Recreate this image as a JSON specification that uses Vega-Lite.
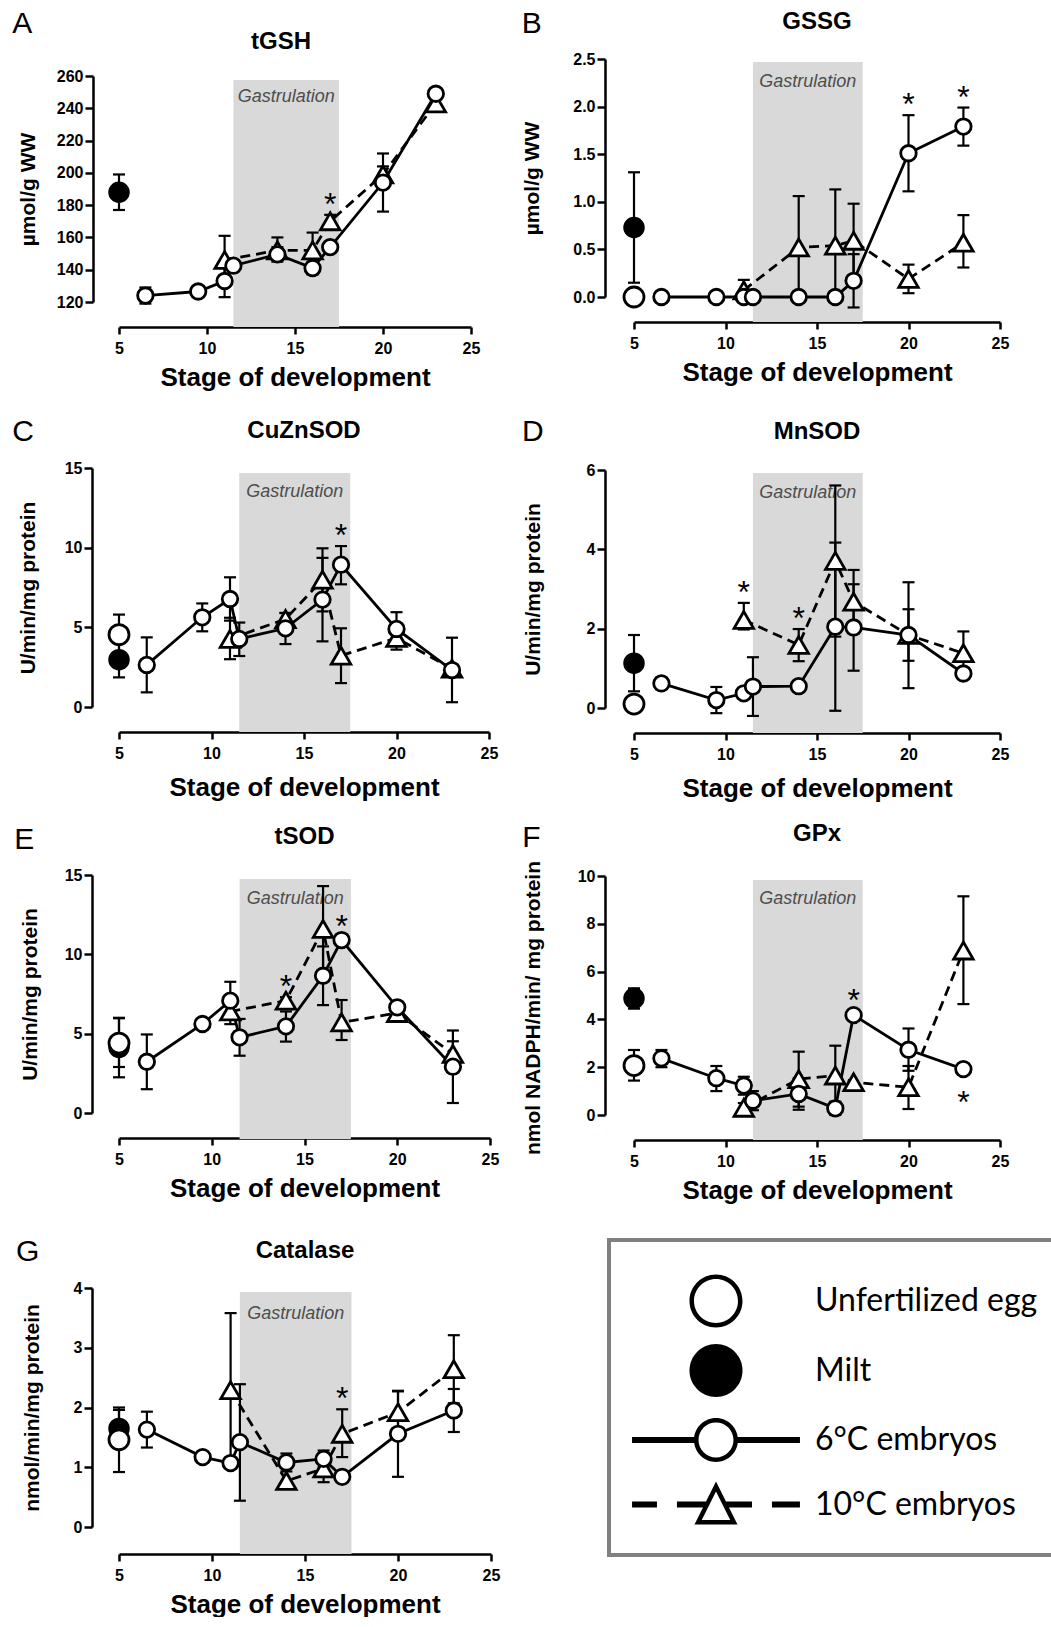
{
"$schema": "https://vega.github.io/schema/vega-lite/v6.json",
"padding": {"left": 12, "top": 8, "right": 0, "bottom": 0},
"background": "white",
"config": {
 "view": {"stroke": null},
 "font": "Liberation Sans",
 "axis": {"grid": false, "domainColor": "black", "domainWidth": 2.5, "tickColor": "black", "tickWidth": 2.5, "labelColor": "black", "labelFont": "Liberation Sans", "labelFontSize": 16, "labelFontWeight": "bold", "titleColor": "black", "titleFont": "Liberation Sans", "titleFontWeight": "bold"},
 "axisX": {"offset": 25, "tickSize": 7, "labelPadding": 6, "titleFontSize": 26, "titlePadding": 8, "labelFlush": false},
 "axisY": {"tickSize": 8, "labelPadding": 2, "titleFontSize": 21},
 "title": {"font": "Liberation Sans", "fontSize": 24, "fontWeight": "bold", "color": "black"},
 "text": {"font": "Liberation Sans"},
 "legend": {"strokeColor": "#808080", "strokeWidth": 4}
},
"datasets": {
 "pts": [
  {"p":"band","s0":11.5,"s1":17.5,"mid":14.5,"label":"Gastrulation"},
  {"p":"A","g":"milt","s":5,"m":188,"lo":177,"hi":199},
  {"p":"A","g":"6C","s":6.5,"m":124,"lo":119,"hi":129},
  {"p":"A","g":"6C","s":9.5,"m":126.5,"lo":124.5,"hi":128.5},
  {"p":"A","g":"6C","s":11,"m":133,"lo":123,"hi":143},
  {"p":"A","g":"6C","s":11.5,"m":142.5,"lo":139.5,"hi":145.5},
  {"p":"A","g":"6C","s":14,"m":149.5,"lo":145,"hi":154},
  {"p":"A","g":"6C","s":16,"m":141,"lo":137,"hi":145},
  {"p":"A","g":"6C","s":17,"m":154,"lo":151,"hi":157},
  {"p":"A","g":"6C","s":20,"m":194,"lo":176,"hi":212},
  {"p":"A","g":"6C","s":23,"m":249,"lo":246,"hi":252},
  {"p":"A","g":"10C","s":11,"m":146,"lo":131,"hi":161},
  {"p":"A","g":"10C","s":14,"m":152,"lo":146,"hi":160},
  {"p":"A","g":"10C","s":16,"m":152,"lo":143,"hi":163},
  {"p":"A","g":"10C","s":17,"m":170,"lo":166,"hi":174,"sig":"up"},
  {"p":"A","g":"10C","s":20,"m":199,"lo":194,"hi":204},
  {"p":"A","g":"10C","s":23,"m":243,"lo":240,"hi":246},

  {"p":"B","g":"milt","s":5,"m":0.73,"lo":0.15,"hi":1.31},
  {"p":"B","g":"egg","s":5,"m":0},
  {"p":"B","g":"6C","s":6.5,"m":0},
  {"p":"B","g":"6C","s":9.5,"m":0},
  {"p":"B","g":"6C","s":11,"m":0},
  {"p":"B","g":"6C","s":11.5,"m":0},
  {"p":"B","g":"6C","s":14,"m":0},
  {"p":"B","g":"6C","s":16,"m":0},
  {"p":"B","g":"6C","s":17,"m":0.17,"lo":-0.11,"hi":0.45},
  {"p":"B","g":"6C","s":20,"m":1.51,"lo":1.11,"hi":1.91,"sig":"up"},
  {"p":"B","g":"6C","s":23,"m":1.79,"lo":1.59,"hi":1.99,"sig":"up"},
  {"p":"B","g":"10C","s":11,"m":0.07,"lo":-0.04,"hi":0.18},
  {"p":"B","g":"10C","s":14,"m":0.52,"lo":0,"hi":1.06},
  {"p":"B","g":"10C","s":16,"m":0.54,"lo":0,"hi":1.13},
  {"p":"B","g":"10C","s":17,"m":0.59,"lo":0.2,"hi":0.98},
  {"p":"B","g":"10C","s":20,"m":0.19,"lo":0.04,"hi":0.34},
  {"p":"B","g":"10C","s":23,"m":0.57,"lo":0.31,"hi":0.86},

  {"p":"C","g":"milt","s":5,"m":2.97,"lo":1.86,"hi":4.1},
  {"p":"C","g":"egg","s":5,"m":4.54,"lo":3.3,"hi":5.8},
  {"p":"C","g":"6C","s":6.5,"m":2.64,"lo":0.92,"hi":4.37},
  {"p":"C","g":"6C","s":9.5,"m":5.63,"lo":4.75,"hi":6.5},
  {"p":"C","g":"6C","s":11,"m":6.78,"lo":5.42,"hi":8.14},
  {"p":"C","g":"6C","s":11.5,"m":4.27,"lo":3.2,"hi":5.3},
  {"p":"C","g":"6C","s":14,"m":4.94,"lo":3.95,"hi":5.9},
  {"p":"C","g":"6C","s":16,"m":6.74,"lo":4.12,"hi":9.36},
  {"p":"C","g":"6C","s":17,"m":8.93,"lo":7.7,"hi":10.1,"sig":"up"},
  {"p":"C","g":"6C","s":20,"m":4.9,"lo":3.95,"hi":5.95},
  {"p":"C","g":"6C","s":23,"m":2.32,"lo":0.3,"hi":4.35},
  {"p":"C","g":"10C","s":11,"m":4.27,"lo":3.0,"hi":5.6},
  {"p":"C","g":"10C","s":14,"m":5.52,"lo":5.1,"hi":5.9},
  {"p":"C","g":"10C","s":16,"m":7.99,"lo":6.0,"hi":9.96},
  {"p":"C","g":"10C","s":17,"m":3.22,"lo":1.5,"hi":4.94},
  {"p":"C","g":"10C","s":20,"m":4.33,"lo":3.6,"hi":5.1},
  {"p":"C","g":"10C","s":23,"m":2.4},

  {"p":"D","g":"milt","s":5,"m":1.13,"lo":0.42,"hi":1.84},
  {"p":"D","g":"egg","s":5,"m":0.1},
  {"p":"D","g":"6C","s":6.5,"m":0.62,"lo":0.47,"hi":0.77},
  {"p":"D","g":"6C","s":9.5,"m":0.2,"lo":-0.13,"hi":0.53},
  {"p":"D","g":"6C","s":11,"m":0.37},
  {"p":"D","g":"6C","s":11.5,"m":0.54,"lo":-0.2,"hi":1.28},
  {"p":"D","g":"6C","s":14,"m":0.55},
  {"p":"D","g":"6C","s":16,"m":2.05,"lo":-0.07,"hi":4.17},
  {"p":"D","g":"6C","s":17,"m":2.03,"lo":0.94,"hi":3.12},
  {"p":"D","g":"6C","s":20,"m":1.84,"lo":0.5,"hi":3.17},
  {"p":"D","g":"6C","s":23,"m":0.87,"lo":0.77,"hi":0.97},
  {"p":"D","g":"10C","s":11,"m":2.22,"lo":1.98,"hi":2.65,"sig":"up"},
  {"p":"D","g":"10C","s":14,"m":1.59,"lo":1.18,"hi":1.99,"sig":"up"},
  {"p":"D","g":"10C","s":16,"m":3.71,"lo":1.8,"hi":5.61},
  {"p":"D","g":"10C","s":17,"m":2.68,"lo":1.88,"hi":3.48},
  {"p":"D","g":"10C","s":20,"m":1.84,"lo":1.19,"hi":2.49},
  {"p":"D","g":"10C","s":23,"m":1.38,"lo":0.84,"hi":1.93},

  {"p":"E","g":"milt","s":5,"m":4.14,"lo":2.25,"hi":6.0},
  {"p":"E","g":"egg","s":5,"m":4.41,"lo":2.9,"hi":5.97},
  {"p":"E","g":"6C","s":6.5,"m":3.23,"lo":1.5,"hi":4.95},
  {"p":"E","g":"6C","s":9.5,"m":5.61,"lo":5.4,"hi":5.8},
  {"p":"E","g":"6C","s":11,"m":7.08,"lo":5.9,"hi":8.27},
  {"p":"E","g":"6C","s":11.5,"m":4.77,"lo":3.61,"hi":5.93},
  {"p":"E","g":"6C","s":14,"m":5.46,"lo":4.5,"hi":6.4},
  {"p":"E","g":"6C","s":16,"m":8.65,"lo":6.8,"hi":10.5},
  {"p":"E","g":"6C","s":17,"m":10.9,"lo":10.7,"hi":11.1,"sig":"up"},
  {"p":"E","g":"6C","s":20,"m":6.66,"lo":6.3,"hi":7.0},
  {"p":"E","g":"6C","s":23,"m":2.92,"lo":0.63,"hi":5.2},
  {"p":"E","g":"10C","s":11,"m":6.4,"lo":5.6,"hi":7.2},
  {"p":"E","g":"10C","s":14,"m":7.08,"lo":6.9,"hi":7.3,"sig":"up"},
  {"p":"E","g":"10C","s":16,"m":11.6,"lo":8.9,"hi":14.3},
  {"p":"E","g":"10C","s":17,"m":5.71,"lo":4.6,"hi":7.12},
  {"p":"E","g":"10C","s":20,"m":6.3,"lo":6.1,"hi":6.5},
  {"p":"E","g":"10C","s":23,"m":3.72,"lo":2.9,"hi":4.52},

  {"p":"F","g":"milt","s":5,"m":4.88,"lo":4.45,"hi":5.3},
  {"p":"F","g":"egg","s":5,"m":2.07,"lo":1.44,"hi":2.72},
  {"p":"F","g":"6C","s":6.5,"m":2.37,"lo":2.0,"hi":2.72},
  {"p":"F","g":"6C","s":9.5,"m":1.54,"lo":1.0,"hi":2.05},
  {"p":"F","g":"6C","s":11,"m":1.23,"lo":0.85,"hi":1.6},
  {"p":"F","g":"6C","s":11.5,"m":0.6,"lo":0.2,"hi":1.0},
  {"p":"F","g":"6C","s":14,"m":0.88,"lo":0.22,"hi":1.54},
  {"p":"F","g":"6C","s":16,"m":0.28,"lo":0,"hi":0.56},
  {"p":"F","g":"6C","s":17,"m":4.18,"lo":4.0,"hi":4.36,"sig":"up"},
  {"p":"F","g":"6C","s":20,"m":2.73,"lo":1.85,"hi":3.62},
  {"p":"F","g":"6C","s":23,"m":1.92,"lo":1.7,"hi":2.15,"sig":"down"},
  {"p":"F","g":"10C","s":11,"m":0.3,"lo":0.1,"hi":0.5},
  {"p":"F","g":"10C","s":14,"m":1.5,"lo":0.35,"hi":2.65},
  {"p":"F","g":"10C","s":16,"m":1.65,"lo":0.4,"hi":2.9},
  {"p":"F","g":"10C","s":17,"m":1.37},
  {"p":"F","g":"10C","s":20,"m":1.16,"lo":0.25,"hi":2.05},
  {"p":"F","g":"10C","s":23,"m":6.88,"lo":4.64,"hi":9.15},

  {"p":"G","g":"milt","s":5,"m":1.65,"lo":1.35,"hi":1.96},
  {"p":"G","g":"egg","s":5,"m":1.46,"lo":0.92,"hi":2.0},
  {"p":"G","g":"6C","s":6.5,"m":1.63,"lo":1.33,"hi":1.93},
  {"p":"G","g":"6C","s":9.5,"m":1.17,"lo":1.08,"hi":1.26},
  {"p":"G","g":"6C","s":11,"m":1.07},
  {"p":"G","g":"6C","s":11.5,"m":1.42,"lo":0.44,"hi":2.39},
  {"p":"G","g":"6C","s":14,"m":1.08,"lo":0.93,"hi":1.23},
  {"p":"G","g":"6C","s":16,"m":1.14,"lo":1.0,"hi":1.28},
  {"p":"G","g":"6C","s":17,"m":0.84},
  {"p":"G","g":"6C","s":20,"m":1.56,"lo":0.84,"hi":2.28},
  {"p":"G","g":"6C","s":23,"m":1.95,"lo":1.59,"hi":2.31},
  {"p":"G","g":"10C","s":11,"m":2.29,"lo":1.0,"hi":3.58},
  {"p":"G","g":"10C","s":14,"m":0.77},
  {"p":"G","g":"10C","s":16,"m":0.98,"lo":0.75,"hi":1.21},
  {"p":"G","g":"10C","s":17,"m":1.56,"lo":1.17,"hi":1.97,"sig":"up"},
  {"p":"G","g":"10C","s":20,"m":1.92,"lo":1.57,"hi":2.27},
  {"p":"G","g":"10C","s":23,"m":2.64,"lo":2.07,"hi":3.21}
 ]
},
"spacing": 21,
"resolve": {"legend": {"shape": "independent"}},
"hconcat": [
 {"spacing": 0, "vconcat": [
  {"width": 1, "height": 1, "data": {"values": []}, "mark": "point"},
  {"spacing": 36, "vconcat": [
   {"spacing": 25, "vconcat": [
    {"spacing": 27, "vconcat": [
     {"title": {"text": "A", "anchor": "start", "fontSize": 30, "fontWeight": "normal", "offset": 0, "dx": -5, "dy": 9},
      "vconcat": [{
       "title": {"text": "tGSH", "offset": 14, "dx": -14},
       "width": 352, "height": 226,
       "data": {"name": "pts"},
       "encoding": {
        "x": {"field": "s", "type": "quantitative", "scale": {"domain": [5,25], "nice": false, "zero": false}, "axis": {"values": [5,10,15,20,25], "title": "Stage of development"}},
        "y": {"field": "m", "type": "quantitative", "scale": {"domain": [120,260], "nice": false, "zero": false}, "axis": {"values": [120,140,160,180,200,220,240,260], "title": "µmol/g WW", "offset": 26, "titlePadding": 18}}
       },
       "layer": [
        {"transform": [{"filter": "datum.p=='band'"}], "mark": {"type": "rect", "color": "#d9d9d9", "y2Offset": 25}, "encoding": {"x": {"field": "s0", "type": "quantitative", "scale": {"domain": [5,25], "nice": false, "zero": false}}, "x2": {"field": "s1"}, "y": {"value": 4}, "y2": {"value": "height"}}},
        {"transform": [{"filter": "datum.p=='band'"}], "mark": {"type": "text", "fontStyle": "italic", "fontSize": 18, "color": "#4d4d4d", "baseline": "middle"}, "encoding": {"x": {"field": "mid", "type": "quantitative", "scale": {"domain": [5,25], "nice": false, "zero": false}}, "y": {"value": 21}, "text": {"field": "label"}}},
        {"transform": [{"filter": "datum.p=='A' && datum.g=='10C'"}], "mark": {"type": "line", "color": "black", "strokeWidth": 2.8, "strokeDash": [10,6]}},
        {"transform": [{"filter": "datum.p=='A' && datum.g=='6C'"}], "mark": {"type": "line", "color": "black", "strokeWidth": 2.8}},
        {"transform": [{"filter": "datum.p=='A' && isValid(datum.lo)"}], "mark": {"type": "rule", "color": "black", "strokeWidth": 2.2}, "encoding": {"y": {"field": "lo", "type": "quantitative", "scale": {"domain": [120,260], "nice": false, "zero": false}}, "y2": {"field": "hi"}}},
        {"transform": [{"filter": "datum.p=='A' && isValid(datum.lo)"}], "mark": {"type": "tick", "orient": "horizontal", "color": "black", "size": 12, "thickness": 2.2, "opacity": 1}, "encoding": {"y": {"field": "lo", "type": "quantitative", "scale": {"domain": [120,260], "nice": false, "zero": false}}}},
        {"transform": [{"filter": "datum.p=='A' && isValid(datum.hi)"}], "mark": {"type": "tick", "orient": "horizontal", "color": "black", "size": 12, "thickness": 2.2, "opacity": 1}, "encoding": {"y": {"field": "hi", "type": "quantitative", "scale": {"domain": [120,260], "nice": false, "zero": false}}}},
        {"transform": [{"filter": "datum.p=='A' && datum.g=='10C'"}], "mark": {"type": "point", "shape": "triangle-up", "size": 380, "filled": true, "fill": "white", "stroke": "black", "strokeWidth": 2.8, "opacity": 1}},
        {"transform": [{"filter": "datum.p=='A' && datum.g=='6C'"}], "mark": {"type": "point", "shape": "circle", "size": 240, "filled": true, "fill": "white", "stroke": "black", "strokeWidth": 2.8, "opacity": 1}},
        {"transform": [{"filter": "datum.p=='A' && datum.g=='milt'"}], "mark": {"type": "point", "shape": "circle", "size": 361, "filled": true, "fill": "black", "stroke": "black", "strokeWidth": 2.5, "opacity": 1}},
        {"transform": [{"filter": "datum.p=='A' && datum.sig=='up'"}], "mark": {"type": "text", "text": "*", "fontSize": 32, "baseline": "alphabetic", "color": "black"}, "encoding": {"y": {"field": "hi", "type": "quantitative", "scale": {"domain": [120,260], "nice": false, "zero": false}}}}
       ]
      }]
     },
     {"title": {"text": "C", "anchor": "start", "fontSize": 30, "fontWeight": "normal", "offset": 0, "dx": -5, "dy": 28.5},
      "vconcat": [{
       "title": {"text": "CuZnSOD", "offset": 17.5},
       "width": 370, "height": 239,
       "data": {"name": "pts"},
       "encoding": {
        "x": {"field": "s", "type": "quantitative", "scale": {"domain": [5,25], "nice": false, "zero": false}, "axis": {"values": [5,10,15,20,25], "title": "Stage of development", "titlePadding": 13}},
        "y": {"field": "m", "type": "quantitative", "scale": {"domain": [0,15], "nice": false, "zero": false}, "axis": {"values": [0,5,10,15], "title": "U/min/mg protein", "offset": 27, "titlePadding": 26}}
       },
       "layer": [
        {"transform": [{"filter": "datum.p=='band'"}], "mark": {"type": "rect", "color": "#d9d9d9", "y2Offset": 25}, "encoding": {"x": {"field": "s0", "type": "quantitative", "scale": {"domain": [5,25], "nice": false, "zero": false}}, "x2": {"field": "s1"}, "y": {"value": 5}, "y2": {"value": "height"}}},
        {"transform": [{"filter": "datum.p=='band'"}], "mark": {"type": "text", "fontStyle": "italic", "fontSize": 18, "color": "#4d4d4d", "baseline": "middle"}, "encoding": {"x": {"field": "mid", "type": "quantitative", "scale": {"domain": [5,25], "nice": false, "zero": false}}, "y": {"value": 24}, "text": {"field": "label"}}},
        {"transform": [{"filter": "datum.p=='C' && datum.g=='10C'"}], "mark": {"type": "line", "color": "black", "strokeWidth": 2.8, "strokeDash": [10,6]}},
        {"transform": [{"filter": "datum.p=='C' && datum.g=='6C'"}], "mark": {"type": "line", "color": "black", "strokeWidth": 2.8}},
        {"transform": [{"filter": "datum.p=='C' && isValid(datum.lo)"}], "mark": {"type": "rule", "color": "black", "strokeWidth": 2.2}, "encoding": {"y": {"field": "lo", "type": "quantitative", "scale": {"domain": [0,15], "nice": false, "zero": false}}, "y2": {"field": "hi"}}},
        {"transform": [{"filter": "datum.p=='C' && isValid(datum.lo)"}], "mark": {"type": "tick", "orient": "horizontal", "color": "black", "size": 12, "thickness": 2.2, "opacity": 1}, "encoding": {"y": {"field": "lo", "type": "quantitative", "scale": {"domain": [0,15], "nice": false, "zero": false}}}},
        {"transform": [{"filter": "datum.p=='C' && isValid(datum.hi)"}], "mark": {"type": "tick", "orient": "horizontal", "color": "black", "size": 12, "thickness": 2.2, "opacity": 1}, "encoding": {"y": {"field": "hi", "type": "quantitative", "scale": {"domain": [0,15], "nice": false, "zero": false}}}},
        {"transform": [{"filter": "datum.p=='C' && datum.g=='10C'"}], "mark": {"type": "point", "shape": "triangle-up", "size": 380, "filled": true, "fill": "white", "stroke": "black", "strokeWidth": 2.8, "opacity": 1}},
        {"transform": [{"filter": "datum.p=='C' && datum.g=='6C'"}], "mark": {"type": "point", "shape": "circle", "size": 240, "filled": true, "fill": "white", "stroke": "black", "strokeWidth": 2.8, "opacity": 1}},
        {"transform": [{"filter": "datum.p=='C' && datum.g=='milt'"}], "mark": {"type": "point", "shape": "circle", "size": 361, "filled": true, "fill": "black", "stroke": "black", "strokeWidth": 2.5, "opacity": 1}},
        {"transform": [{"filter": "datum.p=='C' && datum.g=='egg'"}], "mark": {"type": "point", "shape": "circle", "size": 400, "filled": true, "fill": "white", "stroke": "black", "strokeWidth": 2.8, "opacity": 1}},
        {"transform": [{"filter": "datum.p=='C' && datum.sig=='up'"}], "mark": {"type": "text", "text": "*", "fontSize": 32, "baseline": "alphabetic", "color": "black"}, "encoding": {"y": {"field": "hi", "type": "quantitative", "scale": {"domain": [0,15], "nice": false, "zero": false}}}}
       ]
      }]
     }
    ]},
    {"title": {"text": "E", "anchor": "start", "fontSize": 30, "fontWeight": "normal", "offset": 0, "dx": -5, "dy": 30},
     "vconcat": [{
      "title": {"text": "tSOD", "offset": 18},
      "width": 371, "height": 238,
      "data": {"name": "pts"},
      "encoding": {
       "x": {"field": "s", "type": "quantitative", "scale": {"domain": [5,25], "nice": false, "zero": false}, "axis": {"values": [5,10,15,20,25], "title": "Stage of development"}},
       "y": {"field": "m", "type": "quantitative", "scale": {"domain": [0,15], "nice": false, "zero": false}, "axis": {"values": [0,5,10,15], "title": "U/min/mg protein", "offset": 27, "titlePadding": 24}}
      },
      "layer": [
       {"transform": [{"filter": "datum.p=='band'"}], "mark": {"type": "rect", "color": "#d9d9d9", "y2Offset": 26}, "encoding": {"x": {"field": "s0", "type": "quantitative", "scale": {"domain": [5,25], "nice": false, "zero": false}}, "x2": {"field": "s1"}, "y": {"value": 4}, "y2": {"value": "height"}}},
       {"transform": [{"filter": "datum.p=='band'"}], "mark": {"type": "text", "fontStyle": "italic", "fontSize": 18, "color": "#4d4d4d", "baseline": "middle"}, "encoding": {"x": {"field": "mid", "type": "quantitative", "scale": {"domain": [5,25], "nice": false, "zero": false}}, "y": {"value": 24}, "text": {"field": "label"}}},
       {"transform": [{"filter": "datum.p=='E' && datum.g=='10C'"}], "mark": {"type": "line", "color": "black", "strokeWidth": 2.8, "strokeDash": [10,6]}},
       {"transform": [{"filter": "datum.p=='E' && datum.g=='6C'"}], "mark": {"type": "line", "color": "black", "strokeWidth": 2.8}},
       {"transform": [{"filter": "datum.p=='E' && isValid(datum.lo)"}], "mark": {"type": "rule", "color": "black", "strokeWidth": 2.2}, "encoding": {"y": {"field": "lo", "type": "quantitative", "scale": {"domain": [0,15], "nice": false, "zero": false}}, "y2": {"field": "hi"}}},
       {"transform": [{"filter": "datum.p=='E' && isValid(datum.lo)"}], "mark": {"type": "tick", "orient": "horizontal", "color": "black", "size": 12, "thickness": 2.2, "opacity": 1}, "encoding": {"y": {"field": "lo", "type": "quantitative", "scale": {"domain": [0,15], "nice": false, "zero": false}}}},
       {"transform": [{"filter": "datum.p=='E' && isValid(datum.hi)"}], "mark": {"type": "tick", "orient": "horizontal", "color": "black", "size": 12, "thickness": 2.2, "opacity": 1}, "encoding": {"y": {"field": "hi", "type": "quantitative", "scale": {"domain": [0,15], "nice": false, "zero": false}}}},
       {"transform": [{"filter": "datum.p=='E' && datum.g=='10C'"}], "mark": {"type": "point", "shape": "triangle-up", "size": 380, "filled": true, "fill": "white", "stroke": "black", "strokeWidth": 2.8, "opacity": 1}},
       {"transform": [{"filter": "datum.p=='E' && datum.g=='6C'"}], "mark": {"type": "point", "shape": "circle", "size": 240, "filled": true, "fill": "white", "stroke": "black", "strokeWidth": 2.8, "opacity": 1}},
       {"transform": [{"filter": "datum.p=='E' && datum.g=='milt'"}], "mark": {"type": "point", "shape": "circle", "size": 361, "filled": true, "fill": "black", "stroke": "black", "strokeWidth": 2.5, "opacity": 1}},
       {"transform": [{"filter": "datum.p=='E' && datum.g=='egg'"}], "mark": {"type": "point", "shape": "circle", "size": 400, "filled": true, "fill": "white", "stroke": "black", "strokeWidth": 2.8, "opacity": 1}},
       {"transform": [{"filter": "datum.p=='E' && datum.sig=='up'"}], "mark": {"type": "text", "text": "*", "fontSize": 32, "baseline": "alphabetic", "color": "black"}, "encoding": {"y": {"field": "hi", "type": "quantitative", "scale": {"domain": [0,15], "nice": false, "zero": false}}}}
      ]
     }]
    }
   ]},
   {"title": {"text": "G", "anchor": "start", "fontSize": 30, "fontWeight": "normal", "offset": 0, "dx": -5, "dy": 28},
    "vconcat": [{
     "title": {"text": "Catalase", "offset": 17},
     "width": 372, "height": 239,
     "data": {"name": "pts"},
     "encoding": {
      "x": {"field": "s", "type": "quantitative", "scale": {"domain": [5,25], "nice": false, "zero": false}, "axis": {"values": [5,10,15,20,25], "title": "Stage of development", "offset": 27}},
      "y": {"field": "m", "type": "quantitative", "scale": {"domain": [0,4], "nice": false, "zero": false}, "axis": {"values": [0,1,2,3,4], "title": "nmol/min/mg protein", "offset": 27, "titlePadding": 31}}
     },
     "layer": [
      {"transform": [{"filter": "datum.p=='band'"}], "mark": {"type": "rect", "color": "#d9d9d9", "y2Offset": 27}, "encoding": {"x": {"field": "s0", "type": "quantitative", "scale": {"domain": [5,25], "nice": false, "zero": false}}, "x2": {"field": "s1"}, "y": {"value": 4}, "y2": {"value": "height"}}},
      {"transform": [{"filter": "datum.p=='band'"}], "mark": {"type": "text", "fontStyle": "italic", "fontSize": 18, "color": "#4d4d4d", "baseline": "middle"}, "encoding": {"x": {"field": "mid", "type": "quantitative", "scale": {"domain": [5,25], "nice": false, "zero": false}}, "y": {"value": 26}, "text": {"field": "label"}}},
      {"transform": [{"filter": "datum.p=='G' && datum.g=='10C'"}], "mark": {"type": "line", "color": "black", "strokeWidth": 2.8, "strokeDash": [10,6]}},
      {"transform": [{"filter": "datum.p=='G' && datum.g=='6C'"}], "mark": {"type": "line", "color": "black", "strokeWidth": 2.8}},
      {"transform": [{"filter": "datum.p=='G' && isValid(datum.lo)"}], "mark": {"type": "rule", "color": "black", "strokeWidth": 2.2}, "encoding": {"y": {"field": "lo", "type": "quantitative", "scale": {"domain": [0,4], "nice": false, "zero": false}}, "y2": {"field": "hi"}}},
      {"transform": [{"filter": "datum.p=='G' && isValid(datum.lo)"}], "mark": {"type": "tick", "orient": "horizontal", "color": "black", "size": 12, "thickness": 2.2, "opacity": 1}, "encoding": {"y": {"field": "lo", "type": "quantitative", "scale": {"domain": [0,4], "nice": false, "zero": false}}}},
      {"transform": [{"filter": "datum.p=='G' && isValid(datum.hi)"}], "mark": {"type": "tick", "orient": "horizontal", "color": "black", "size": 12, "thickness": 2.2, "opacity": 1}, "encoding": {"y": {"field": "hi", "type": "quantitative", "scale": {"domain": [0,4], "nice": false, "zero": false}}}},
      {"transform": [{"filter": "datum.p=='G' && datum.g=='10C'"}], "mark": {"type": "point", "shape": "triangle-up", "size": 380, "filled": true, "fill": "white", "stroke": "black", "strokeWidth": 2.8, "opacity": 1}},
      {"transform": [{"filter": "datum.p=='G' && datum.g=='6C'"}], "mark": {"type": "point", "shape": "circle", "size": 240, "filled": true, "fill": "white", "stroke": "black", "strokeWidth": 2.8, "opacity": 1}},
      {"transform": [{"filter": "datum.p=='G' && datum.g=='milt'"}], "mark": {"type": "point", "shape": "circle", "size": 361, "filled": true, "fill": "black", "stroke": "black", "strokeWidth": 2.5, "opacity": 1}},
      {"transform": [{"filter": "datum.p=='G' && datum.g=='egg'"}], "mark": {"type": "point", "shape": "circle", "size": 400, "filled": true, "fill": "white", "stroke": "black", "strokeWidth": 2.8, "opacity": 1}},
      {"transform": [{"filter": "datum.p=='G' && datum.sig=='up'"}], "mark": {"type": "text", "text": "*", "fontSize": 32, "baseline": "alphabetic", "color": "black"}, "encoding": {"y": {"field": "hi", "type": "quantitative", "scale": {"domain": [0,4], "nice": false, "zero": false}}}}
     ]
    }]
   }
  ]}
 ]},
 {"spacing": 0, "resolve": {"legend": {"shape": "independent"}}, "vconcat": [
  {"width": 1, "height": 1, "data": {"values": []}, "mark": "point"},
  {"spacing": 21, "resolve": {"legend": {"shape": "independent"}}, "vconcat": [
   {"spacing": 32, "vconcat": [
    {"title": {"text": "B", "anchor": "start", "fontSize": 30, "fontWeight": "normal", "offset": 0, "dy": 29},
     "vconcat": [{
      "title": {"text": "GSSG", "offset": 17},
      "width": 366, "height": 238,
      "data": {"name": "pts"},
      "encoding": {
       "x": {"field": "s", "type": "quantitative", "scale": {"domain": [5,25], "nice": false, "zero": false}, "axis": {"values": [5,10,15,20,25], "title": "Stage of development"}},
       "y": {"field": "m", "type": "quantitative", "scale": {"domain": [0,2.5], "nice": false, "zero": false}, "axis": {"values": [0,0.5,1,1.5,2,2.5], "format": ".1f", "title": "µmol/g WW", "offset": 29, "titlePadding": 30}}
      },
      "layer": [
       {"transform": [{"filter": "datum.p=='band'"}], "mark": {"type": "rect", "color": "#d9d9d9", "y2Offset": 25}, "encoding": {"x": {"field": "s0", "type": "quantitative", "scale": {"domain": [5,25], "nice": false, "zero": false}}, "x2": {"field": "s1"}, "y": {"value": 3}, "y2": {"value": "height"}}},
       {"transform": [{"filter": "datum.p=='band'"}], "mark": {"type": "text", "fontStyle": "italic", "fontSize": 18, "color": "#4d4d4d", "baseline": "middle"}, "encoding": {"x": {"field": "mid", "type": "quantitative", "scale": {"domain": [5,25], "nice": false, "zero": false}}, "y": {"value": 23}, "text": {"field": "label"}}},
       {"transform": [{"filter": "datum.p=='B' && datum.g=='10C'"}], "mark": {"type": "line", "color": "black", "strokeWidth": 2.8, "strokeDash": [10,6]}},
       {"transform": [{"filter": "datum.p=='B' && datum.g=='6C'"}], "mark": {"type": "line", "color": "black", "strokeWidth": 2.8}},
       {"transform": [{"filter": "datum.p=='B' && isValid(datum.lo)"}], "mark": {"type": "rule", "color": "black", "strokeWidth": 2.2}, "encoding": {"y": {"field": "lo", "type": "quantitative", "scale": {"domain": [0,2.5], "nice": false, "zero": false}}, "y2": {"field": "hi"}}},
       {"transform": [{"filter": "datum.p=='B' && isValid(datum.lo)"}], "mark": {"type": "tick", "orient": "horizontal", "color": "black", "size": 12, "thickness": 2.2, "opacity": 1}, "encoding": {"y": {"field": "lo", "type": "quantitative", "scale": {"domain": [0,2.5], "nice": false, "zero": false}}}},
       {"transform": [{"filter": "datum.p=='B' && isValid(datum.hi)"}], "mark": {"type": "tick", "orient": "horizontal", "color": "black", "size": 12, "thickness": 2.2, "opacity": 1}, "encoding": {"y": {"field": "hi", "type": "quantitative", "scale": {"domain": [0,2.5], "nice": false, "zero": false}}}},
       {"transform": [{"filter": "datum.p=='B' && datum.g=='10C'"}], "mark": {"type": "point", "shape": "triangle-up", "size": 380, "filled": true, "fill": "white", "stroke": "black", "strokeWidth": 2.8, "opacity": 1}},
       {"transform": [{"filter": "datum.p=='B' && datum.g=='6C'"}], "mark": {"type": "point", "shape": "circle", "size": 240, "filled": true, "fill": "white", "stroke": "black", "strokeWidth": 2.8, "opacity": 1}},
       {"transform": [{"filter": "datum.p=='B' && datum.g=='milt'"}], "mark": {"type": "point", "shape": "circle", "size": 361, "filled": true, "fill": "black", "stroke": "black", "strokeWidth": 2.5, "opacity": 1}},
       {"transform": [{"filter": "datum.p=='B' && datum.g=='egg'"}], "mark": {"type": "point", "shape": "circle", "size": 400, "filled": true, "fill": "white", "stroke": "black", "strokeWidth": 2.8, "opacity": 1}},
       {"transform": [{"filter": "datum.p=='B' && datum.sig=='up'"}], "mark": {"type": "text", "text": "*", "fontSize": 32, "baseline": "alphabetic", "color": "black"}, "encoding": {"y": {"field": "hi", "type": "quantitative", "scale": {"domain": [0,2.5], "nice": false, "zero": false}}}}
      ]
     }]
    },
    {"title": {"text": "D", "anchor": "start", "fontSize": 30, "fontWeight": "normal", "offset": 0, "dy": 27.5},
     "vconcat": [{
      "title": {"text": "MnSOD", "offset": 18.5},
      "width": 366, "height": 238,
      "data": {"name": "pts"},
      "encoding": {
       "x": {"field": "s", "type": "quantitative", "scale": {"domain": [5,25], "nice": false, "zero": false}, "axis": {"values": [5,10,15,20,25], "title": "Stage of development", "titlePadding": 13}},
       "y": {"field": "m", "type": "quantitative", "scale": {"domain": [0,6], "nice": false, "zero": false}, "axis": {"values": [0,2,4,6], "title": "U/min/mg protein", "offset": 29, "titlePadding": 43}}
      },
      "layer": [
       {"transform": [{"filter": "datum.p=='band'"}], "mark": {"type": "rect", "color": "#d9d9d9", "y2Offset": 25}, "encoding": {"x": {"field": "s0", "type": "quantitative", "scale": {"domain": [5,25], "nice": false, "zero": false}}, "x2": {"field": "s1"}, "y": {"value": 3}, "y2": {"value": "height"}}},
       {"transform": [{"filter": "datum.p=='band'"}], "mark": {"type": "text", "fontStyle": "italic", "fontSize": 18, "color": "#4d4d4d", "baseline": "middle"}, "encoding": {"x": {"field": "mid", "type": "quantitative", "scale": {"domain": [5,25], "nice": false, "zero": false}}, "y": {"value": 23}, "text": {"field": "label"}}},
       {"transform": [{"filter": "datum.p=='D' && datum.g=='10C'"}], "mark": {"type": "line", "color": "black", "strokeWidth": 2.8, "strokeDash": [10,6]}},
       {"transform": [{"filter": "datum.p=='D' && datum.g=='6C'"}], "mark": {"type": "line", "color": "black", "strokeWidth": 2.8}},
       {"transform": [{"filter": "datum.p=='D' && isValid(datum.lo)"}], "mark": {"type": "rule", "color": "black", "strokeWidth": 2.2}, "encoding": {"y": {"field": "lo", "type": "quantitative", "scale": {"domain": [0,6], "nice": false, "zero": false}}, "y2": {"field": "hi"}}},
       {"transform": [{"filter": "datum.p=='D' && isValid(datum.lo)"}], "mark": {"type": "tick", "orient": "horizontal", "color": "black", "size": 12, "thickness": 2.2, "opacity": 1}, "encoding": {"y": {"field": "lo", "type": "quantitative", "scale": {"domain": [0,6], "nice": false, "zero": false}}}},
       {"transform": [{"filter": "datum.p=='D' && isValid(datum.hi)"}], "mark": {"type": "tick", "orient": "horizontal", "color": "black", "size": 12, "thickness": 2.2, "opacity": 1}, "encoding": {"y": {"field": "hi", "type": "quantitative", "scale": {"domain": [0,6], "nice": false, "zero": false}}}},
       {"transform": [{"filter": "datum.p=='D' && datum.g=='10C'"}], "mark": {"type": "point", "shape": "triangle-up", "size": 380, "filled": true, "fill": "white", "stroke": "black", "strokeWidth": 2.8, "opacity": 1}},
       {"transform": [{"filter": "datum.p=='D' && datum.g=='6C'"}], "mark": {"type": "point", "shape": "circle", "size": 240, "filled": true, "fill": "white", "stroke": "black", "strokeWidth": 2.8, "opacity": 1}},
       {"transform": [{"filter": "datum.p=='D' && datum.g=='milt'"}], "mark": {"type": "point", "shape": "circle", "size": 361, "filled": true, "fill": "black", "stroke": "black", "strokeWidth": 2.5, "opacity": 1}},
       {"transform": [{"filter": "datum.p=='D' && datum.g=='egg'"}], "mark": {"type": "point", "shape": "circle", "size": 400, "filled": true, "fill": "white", "stroke": "black", "strokeWidth": 2.8, "opacity": 1}},
       {"transform": [{"filter": "datum.p=='D' && datum.sig=='up'"}], "mark": {"type": "text", "text": "*", "fontSize": 32, "baseline": "alphabetic", "color": "black"}, "encoding": {"y": {"field": "hi", "type": "quantitative", "scale": {"domain": [0,6], "nice": false, "zero": false}}}}
      ]
     }]
    }
   ]},
   {"title": {"text": "F", "anchor": "start", "fontSize": 30, "fontWeight": "normal", "offset": 0, "dy": 30.5},
    "resolve": {"legend": {"shape": "independent"}},
    "vconcat": [{
     "title": {"text": "GPx", "offset": 14.5},
     "width": 366, "height": 239,
     "data": {"name": "pts"},
     "encoding": {
      "x": {"field": "s", "type": "quantitative", "scale": {"domain": [5,25], "nice": false, "zero": false}, "axis": {"values": [5,10,15,20,25], "title": "Stage of development"}},
      "y": {"field": "m", "type": "quantitative", "scale": {"domain": [0,10], "nice": false, "zero": false}, "axis": {"values": [0,2,4,6,8,10], "title": "nmol NADPH/min/ mg protein", "offset": 29, "titlePadding": 34, "titleY": 131.5}}
     },
     "layer": [
      {"transform": [{"filter": "datum.p=='band'"}], "mark": {"type": "rect", "color": "#d9d9d9", "y2Offset": 25}, "encoding": {"x": {"field": "s0", "type": "quantitative", "scale": {"domain": [5,25], "nice": false, "zero": false}}, "x2": {"field": "s1"}, "y": {"value": 4}, "y2": {"value": "height"}}},
      {"transform": [{"filter": "datum.p=='band'"}], "mark": {"type": "text", "fontStyle": "italic", "fontSize": 18, "color": "#4d4d4d", "baseline": "middle"}, "encoding": {"x": {"field": "mid", "type": "quantitative", "scale": {"domain": [5,25], "nice": false, "zero": false}}, "y": {"value": 23}, "text": {"field": "label"}}},
      {"transform": [{"filter": "datum.p=='F' && datum.g=='10C'"}], "mark": {"type": "line", "color": "black", "strokeWidth": 2.8, "strokeDash": [10,6]}},
      {"transform": [{"filter": "datum.p=='F' && datum.g=='6C'"}], "mark": {"type": "line", "color": "black", "strokeWidth": 2.8}},
      {"transform": [{"filter": "datum.p=='F' && isValid(datum.lo)"}], "mark": {"type": "rule", "color": "black", "strokeWidth": 2.2}, "encoding": {"y": {"field": "lo", "type": "quantitative", "scale": {"domain": [0,10], "nice": false, "zero": false}}, "y2": {"field": "hi"}}},
      {"transform": [{"filter": "datum.p=='F' && isValid(datum.lo)"}], "mark": {"type": "tick", "orient": "horizontal", "color": "black", "size": 12, "thickness": 2.2, "opacity": 1}, "encoding": {"y": {"field": "lo", "type": "quantitative", "scale": {"domain": [0,10], "nice": false, "zero": false}}}},
      {"transform": [{"filter": "datum.p=='F' && isValid(datum.hi)"}], "mark": {"type": "tick", "orient": "horizontal", "color": "black", "size": 12, "thickness": 2.2, "opacity": 1}, "encoding": {"y": {"field": "hi", "type": "quantitative", "scale": {"domain": [0,10], "nice": false, "zero": false}}}},
      {"transform": [{"filter": "datum.p=='F' && datum.g=='10C'"}], "mark": {"type": "point", "shape": "triangle-up", "size": 380, "filled": true, "fill": "white", "stroke": "black", "strokeWidth": 2.8, "opacity": 1}},
      {"transform": [{"filter": "datum.p=='F' && datum.g=='6C'"}], "mark": {"type": "point", "shape": "circle", "size": 240, "filled": true, "fill": "white", "stroke": "black", "strokeWidth": 2.8, "opacity": 1}},
      {"transform": [{"filter": "datum.p=='F' && datum.g=='milt'"}], "mark": {"type": "point", "shape": "circle", "size": 361, "filled": true, "fill": "black", "stroke": "black", "strokeWidth": 2.5, "opacity": 1}},
      {"transform": [{"filter": "datum.p=='F' && datum.g=='egg'"}], "mark": {"type": "point", "shape": "circle", "size": 400, "filled": true, "fill": "white", "stroke": "black", "strokeWidth": 2.8, "opacity": 1}},
      {"transform": [{"filter": "datum.p=='F' && datum.sig=='up'"}], "mark": {"type": "text", "text": "*", "fontSize": 32, "baseline": "alphabetic", "color": "black"}, "encoding": {"y": {"field": "hi", "type": "quantitative", "scale": {"domain": [0,10], "nice": false, "zero": false}}}},
      {"transform": [{"filter": "datum.p=='F' && datum.sig=='down'"}], "mark": {"type": "text", "text": "*", "fontSize": 32, "baseline": "alphabetic", "dy": 39, "color": "black"}, "encoding": {"y": {"field": "lo", "type": "quantitative", "scale": {"domain": [0,10], "nice": false, "zero": false}}}},
      {"transform": [{"filter": "false"}], "mark": {"type": "point", "filled": true, "color": "black", "opacity": 1},
       "encoding": {
        "shape": {"field": "g", "type": "nominal",
          "scale": {"domain": ["Unfertilized egg", "Milt", "6°C embryos", "10°C embryos"],
                    "range": ["M -2.73 0 M 2.73 0 M -0.862 0 A 0.862 0.862 0 1 1 0.862 0 A 0.862 0.862 0 1 1 -0.862 0 Z M -0.715 0 A 0.715 0.715 0 1 0 0.715 0 A 0.715 0.715 0 1 0 -0.715 0 Z",
                              "M -2.73 0 M 2.73 0 M -0.862 0 A 0.862 0.862 0 1 1 0.862 0 A 0.862 0.862 0 1 1 -0.862 0 Z",
                              "M -2.73 -0.095 H -0.70 V 0.095 H -2.73 Z M 0.70 -0.095 H 2.73 V 0.095 H 0.70 Z M -0.715 0 A 0.715 0.715 0 1 1 0.715 0 A 0.715 0.715 0 1 1 -0.715 0 Z M -0.569 0 A 0.569 0.569 0 1 0 0.569 0 A 0.569 0.569 0 1 0 -0.569 0 Z",
                              "M -2.73 -0.095 H -1.92 V 0.095 H -2.73 Z M -1.27 -0.095 H -0.30 V 0.095 H -1.27 Z M 0.30 -0.095 H 1.17 V 0.095 H 0.30 Z M 1.82 -0.095 H 2.73 V 0.095 H 1.82 Z M 0 -0.748 L 0.699 0.65 L -0.699 0.65 Z M 0 -0.421 L -0.463 0.504 L 0.463 0.504 Z"]},
          "legend": {"title": null, "orient": "none", "legendX": -25, "legendY": 364, "padding": 30, "symbolOffset": 46, "symbolSize": 3782, "symbolStrokeWidth": 0, "symbolFillColor": "black", "labelOffset": 68, "labelFont": "Lato", "labelFontSize": 32, "labelColor": "black", "labelLimit": 600, "rowPadding": 11.5, "strokeColor": "#808080",
                     "encode": {"legend": {"strokeWidth": {"value": 4}}}}}
       }}
     ]
    }]
   }
  ]}
 ]}
]
}
